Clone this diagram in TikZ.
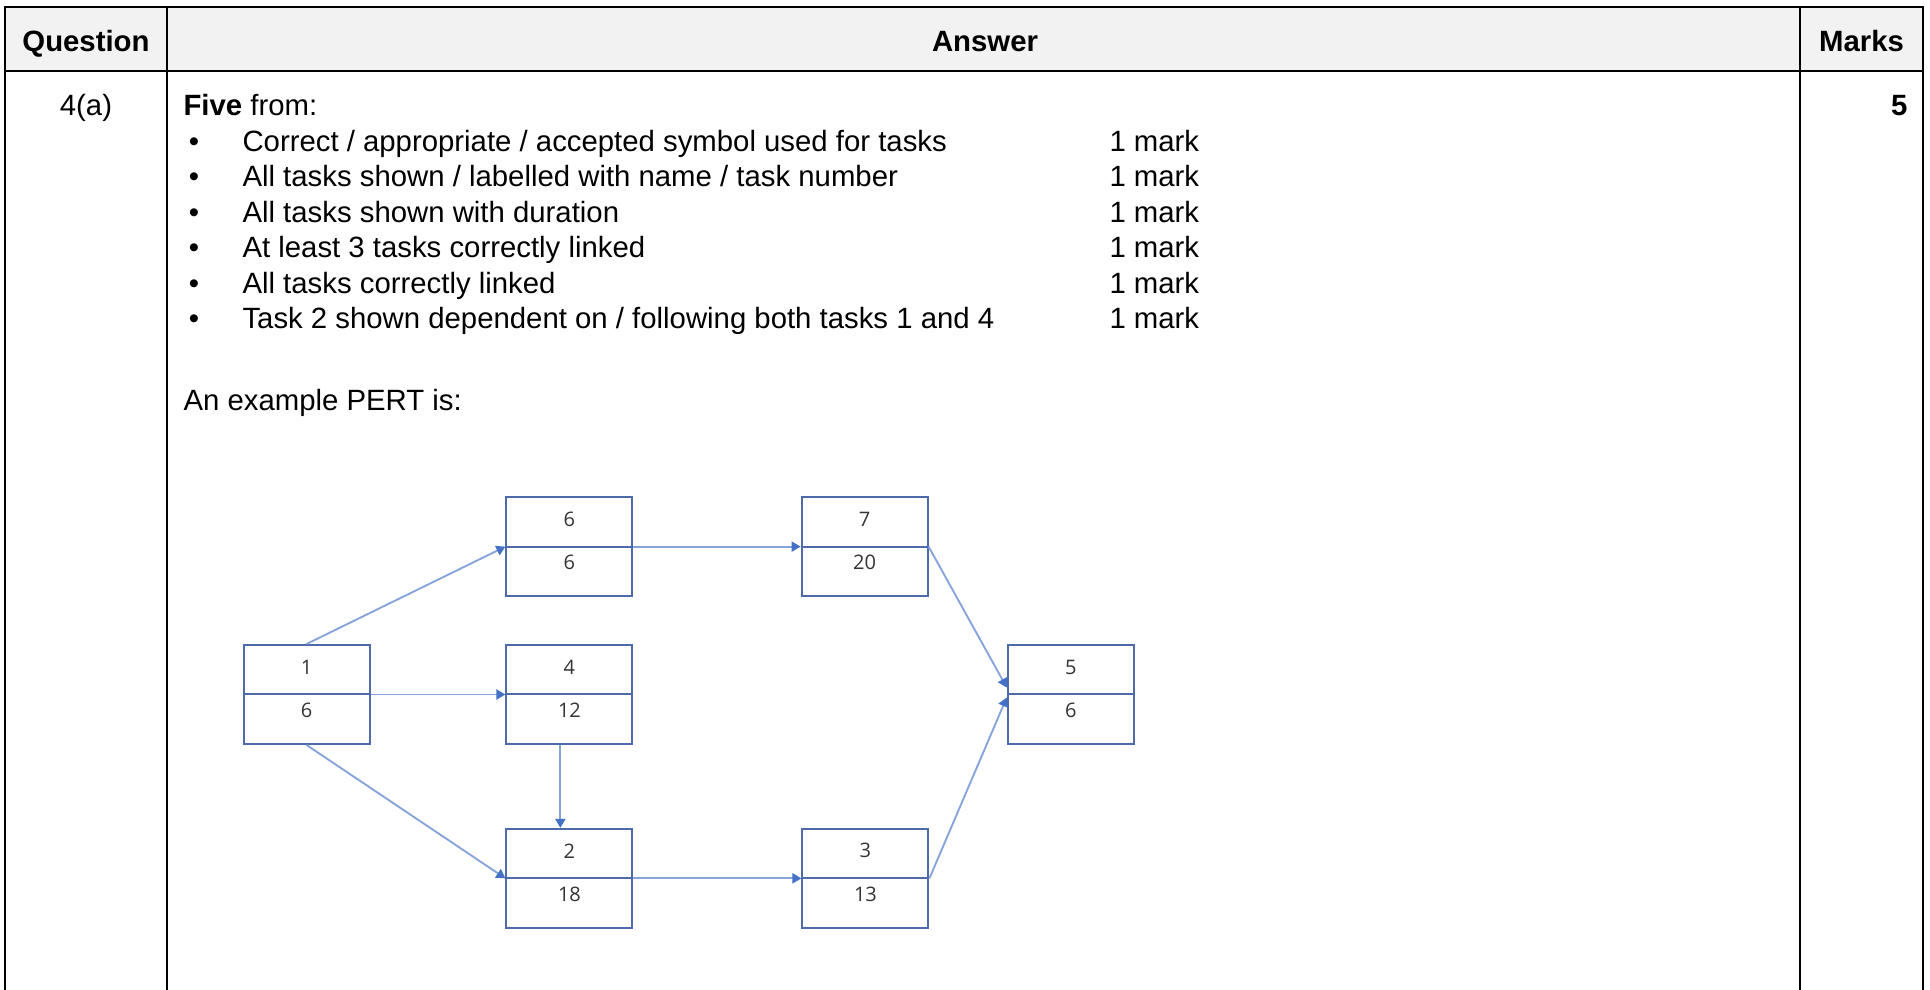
\documentclass[tikz,border=0pt]{standalone}
\usepackage{fontspec}
\setmainfont{Liberation Sans}
\newfontfamily\boxfont{Open Sans}
\usepackage{tikz}
\usetikzlibrary{arrows.meta,positioning,calc}
\definecolor{boxblue}{HTML}{4D6AAA}
\definecolor{arrowblue}{HTML}{86A3DA}
\definecolor{headblue}{HTML}{4472C4}
\definecolor{hdrgray}{HTML}{F2F2F2}
\definecolor{numgray}{HTML}{333333}
\newcommand{\pertbox}[4]{% name, placement, task, duration
  \node[taskbox, #2] (#1) {};
  \draw[boxblue, line width=0.75pt] (#1.west) -- (#1.east);
  \node[tasknum] (#1-task) at ([yshift=-8.6pt]#1.north) {#3};
  \node[tasknum] (#1-dur) at ([yshift=-6pt]#1.center) {#4};
}

\begin{document}
\begin{tikzpicture}[
  x=0.375pt, y=-0.375pt,
  txt/.style={font=\fontsize{11pt}{13pt}\selectfont, inner sep=0pt, anchor=base west},
  hdr/.style={font=\fontsize{11pt}{13pt}\selectfont\bfseries, inner sep=0pt, anchor=base},
  taskbox/.style={draw=boxblue, line width=0.75pt, minimum width=47.25pt,
                  minimum height=37.1pt, inner sep=0pt},
  tasknum/.style={font=\boxfont\fontsize{7.5pt}{8pt}\selectfont, text=numgray, inner sep=0pt},
  link/.style={draw=arrowblue, line width=0.7pt,
               -{Triangle[length=3.4pt, width=3.8pt, color=headblue]}},
  rule/.style={line width=0.75pt},
]
\useasboundingbox (0,0) rectangle (1930,990);

% Table frame
\fill[hdrgray] (5,7) rectangle (1923,71);
\draw[rule] (5,990) -- (5,7) -- (1923,7) -- (1923,990);
\draw[rule] (167,7) -- (167,990);
\draw[rule] (1800,7) -- (1800,990);
\draw[line width=1.1pt] (5,71) -- (1923,71);

% Header
\node[hdr] (qhead) at (86,52) {Question};
\node[hdr] (ahead) at (985,52) {Answer};
\node[hdr] (mhead) at (1861.5,52) {Marks};

% Answer text
\node[txt, anchor=base] (qnum) at (86,116) {4(a)};
\node[hdr, anchor=base east] (total) at (1908,116) {5};
\node[txt] (five) at (183,116) {\textbf{Five} from:};
\foreach \item [count=\i] in {
  Correct / appropriate / accepted symbol used for tasks,
  All tasks shown / labelled with name / task number,
  All tasks shown with duration,
  At least 3 tasks correctly linked,
  All tasks correctly linked,
  Task 2 shown dependent on / following both tasks 1 and 4} {
  \node[txt, anchor=base] (bullet\i) at (194,116+\i*35.45) {\textbullet};
  \node[txt] (item\i) at (242,116+\i*35.45) {\item};
  \node[txt] (mark\i) at (1109,116+\i*35.45) {1 mark};
}
\node[txt] (example) at (183,411) {An example PERT is:};

% PERT boxes
\pertbox{t1}{at={(306.5,694.5)}}{1}{6}
\pertbox{t4}{right=50.6pt of t1}{4}{12}
\pertbox{t6}{above=17.6pt of t4}{6}{6}
\pertbox{t2}{below=31.1pt of t4}{2}{18}
\pertbox{t7}{right=62.7pt of t6}{7}{20}
\pertbox{t3}{right=63pt of t2}{3}{13}
\pertbox{t5}{right=140pt of t4}{5}{6}

% Links
\draw[link] (t1.north) -- (t6.west);
\draw[link] (t1.east) -- (t4.west);
\draw[link] (t1.south) -- (t2.west);
\draw[link] ([xshift=-3.4pt]t4.south) -- ([xshift=-3.4pt]t4.south |- t2.north);
\draw[link] (t6.east) -- (t7.west);
\draw[link] (t2.east) -- (t3.west);
\draw[link] (t7.east) -- ([yshift=2.6pt]t5.west);
\draw[link] (t3.east) -- ([yshift=-1.1pt]t5.west);

\end{tikzpicture}
\end{document}
